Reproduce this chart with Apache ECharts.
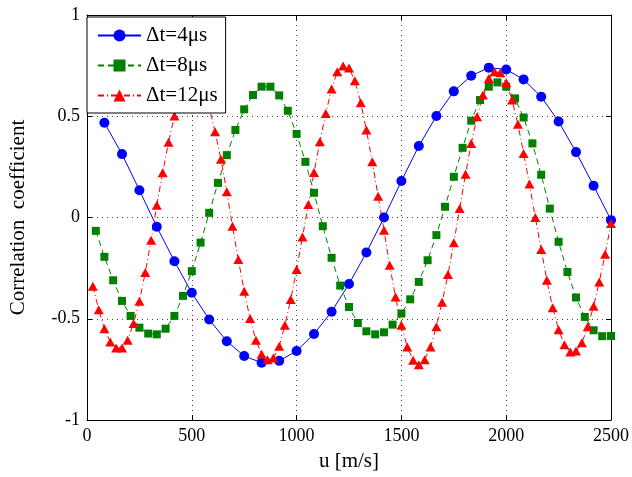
<!DOCTYPE html>
<html>
<head>
<meta charset="utf-8">
<script src="https://cdn.jsdelivr.net/npm/echarts@6/dist/echarts.min.js"></script>
<style>
html,body{margin:0;padding:0;background:#fff;}
#chart{width:632px;height:477px;}
</style>
</head>
<body>
<div id="chart"></div>
<script>
// ---- Data ----
const xTicks = [0, 500, 1000, 1500, 2000, 2500];
const yTicks = [-1, -0.5, 0, 0.5, 1];

const seriesNames = ['\u0394t=4\u03bcs', '\u0394t=8\u03bcs', '\u0394t=12\u03bcs'];

const u4 = [83,167,250,333,417,500,583,667,750,833,917,1000,1083,1167,1250,1333,1417,1500,1583,1667,1750,1833,1917,2000,2083,2167,2250,2333,2417,2500];
const r4 = [0.468,0.313,0.135,-0.046,-0.216,-0.372,-0.504,-0.611,-0.684,-0.717,
            -0.708,-0.659,-0.575,-0.465,-0.328,-0.173,0.0,0.18,0.353,0.501,
            0.623,0.70,0.74,0.731,0.682,0.596,0.474,0.323,0.157,-0.013];

const u8 = [42,83,125,167,208,250,292,333,375,417,458,500,542,583,625,667,708,750,792,833,
            875,917,958,1000,1042,1083,1125,1167,1208,1250,1292,1333,1375,1417,1458,1500,1542,1583,1625,1667,
            1708,1750,1792,1833,1875,1917,1958,2000,2042,2083,2125,2167,2208,2250,2292,2333,2375,2417,2458,2500];
const r8 = [-0.066,-0.194,-0.31,-0.412,-0.486,-0.544,-0.573,-0.577,-0.549,-0.486,
            -0.387,-0.265,-0.124,0.023,0.171,0.308,0.432,0.534,0.605,0.646,
            0.646,0.603,0.527,0.413,0.275,0.122,-0.043,-0.199,-0.336,-0.442,
            -0.521,-0.562,-0.577,-0.567,-0.529,-0.474,-0.404,-0.318,-0.211,-0.087,
            0.053,0.201,0.344,0.478,0.58,0.646,0.667,0.646,0.588,0.494,
            0.366,0.211,0.044,-0.12,-0.269,-0.395,-0.491,-0.557,-0.586,-0.585];

const u12 = [28,56,83,111,139,167,194,222,250,278,
             306,333,361,389,417,444,472,500,528,556,
             583,611,639,667,694,722,750,778,806,833,
             861,889,917,944,972,1000,1028,1056,1083,1111,
             1139,1167,1194,1222,1250,1278,1306,1333,1361,1389,
             1417,1444,1472,1500,1528,1556,1583,1611,1639,1667,
             1694,1722,1750,1778,1806,1833,1861,1889,1917,1944,
             1972,2000,2028,2056,2083,2111,2139,2167,2194,2222,
             2250,2278,2306,2333,2361,2389,2417,2444,2472,2500];
const r12 = [-0.34,-0.455,-0.549,-0.615,-0.644,-0.644,-0.606,-0.524,-0.413,-0.272,
             -0.112,0.061,0.221,0.371,0.501,0.59,0.62,0.63,0.62,0.59,
             0.545,0.423,0.288,0.127,-0.043,-0.208,-0.364,-0.499,-0.606,-0.675,
             -0.702,-0.694,-0.636,-0.532,-0.405,-0.257,-0.096,0.064,0.222,0.374,
             0.514,0.634,0.72,0.748,0.738,0.675,0.567,0.432,0.275,0.105,
             -0.063,-0.236,-0.392,-0.532,-0.639,-0.705,-0.727,-0.702,-0.639,-0.54,
             -0.418,-0.282,-0.125,0.044,0.214,0.366,0.498,0.605,0.687,0.72,
             0.715,0.666,0.58,0.46,0.316,0.165,0.0,-0.158,-0.31,-0.446,
             -0.554,-0.628,-0.664,-0.659,-0.619,-0.54,-0.438,-0.318,-0.181,-0.03];

const xLabel = 'u [m/s]';
const yLabel = 'Correlation  coefficient';

// ---- Build chart ----
const FONT = '"Liberation Serif", "Times New Roman", serif';
const pair = (xs, ys) => xs.map((x, i) => [x, ys[i]]);
const plain = v => String(v);

const axisCommon = {
  axisLine: { show: true, onZero: false, lineStyle: { color: '#000', width: 1 } },
  axisTick: { show: true, inside: true, length: 5, lineStyle: { color: '#000' } },
};
const gridLine = { show: true, lineStyle: { color: '#444', width: 1, type: [1, 4] } };

const chart = echarts.init(document.getElementById('chart'), null, { renderer: 'canvas' });
chart.setOption({
  animation: false,
  backgroundColor: '#fff',
  grid: { left: 85, right: 19, top: 15, bottom: 57, containLabel: false },
  legend: {
    orient: 'vertical',
    left: 87, top: 17,
    backgroundColor: '#fff',
    borderColor: '#000', borderWidth: 1, borderRadius: 0,
    padding: [8, 8, 7, 10],
    itemGap: 9,
    itemWidth: 43, itemHeight: 15,
    textStyle: { fontFamily: FONT, fontSize: 21, color: '#000' },
    data: seriesNames
  },
  xAxis: [
    Object.assign({
      type: 'value', min: xTicks[0], max: xTicks[xTicks.length - 1], interval: 500,
      position: 'bottom',
      name: xLabel, nameLocation: 'middle', nameGap: 31,
      nameTextStyle: { fontFamily: FONT, fontSize: 21, color: '#000' },
      axisLabel: { fontFamily: FONT, fontSize: 18, color: '#000', margin: 7, formatter: plain },
      splitLine: gridLine
    }, axisCommon),
    Object.assign({
      type: 'value', min: xTicks[0], max: xTicks[xTicks.length - 1], interval: 500,
      position: 'top',
      axisLabel: { show: false },
      splitLine: { show: false }
    }, axisCommon)
  ],
  yAxis: [
    Object.assign({
      type: 'value', min: yTicks[0], max: yTicks[yTicks.length - 1], interval: 0.5,
      position: 'left',
      name: yLabel, nameLocation: 'middle', nameGap: 58,
      nameTextStyle: { fontFamily: FONT, fontSize: 21, color: '#000' },
      axisLabel: { fontFamily: FONT, fontSize: 18, color: '#000', margin: 7, formatter: plain },
      splitLine: gridLine
    }, axisCommon),
    Object.assign({
      type: 'value', min: yTicks[0], max: yTicks[yTicks.length - 1], interval: 0.5,
      position: 'right',
      axisLabel: { show: false },
      splitLine: { show: false }
    }, axisCommon)
  ],
  series: [
    {
      name: seriesNames[0], type: 'line', data: pair(u4, r4),
      symbol: 'circle', symbolSize: 10,
      itemStyle: { color: '#0000ff' },
      lineStyle: { color: '#0000ff', width: 1, type: 'solid' }
    },
    {
      name: seriesNames[1], type: 'line', data: pair(u8, r8),
      symbol: 'rect', symbolSize: 8,
      itemStyle: { color: '#008000' },
      lineStyle: { color: '#008000', width: 1, type: [6, 4] }
    },
    {
      name: seriesNames[2], type: 'line', data: pair(u12, r12),
      symbol: 'triangle', symbolSize: [10, 9],
      itemStyle: { color: '#ff0000' },
      lineStyle: { color: '#ff0000', width: 1, type: [6, 3, 1, 3] }
    }
  ]
});
</script>
</body>
</html>
